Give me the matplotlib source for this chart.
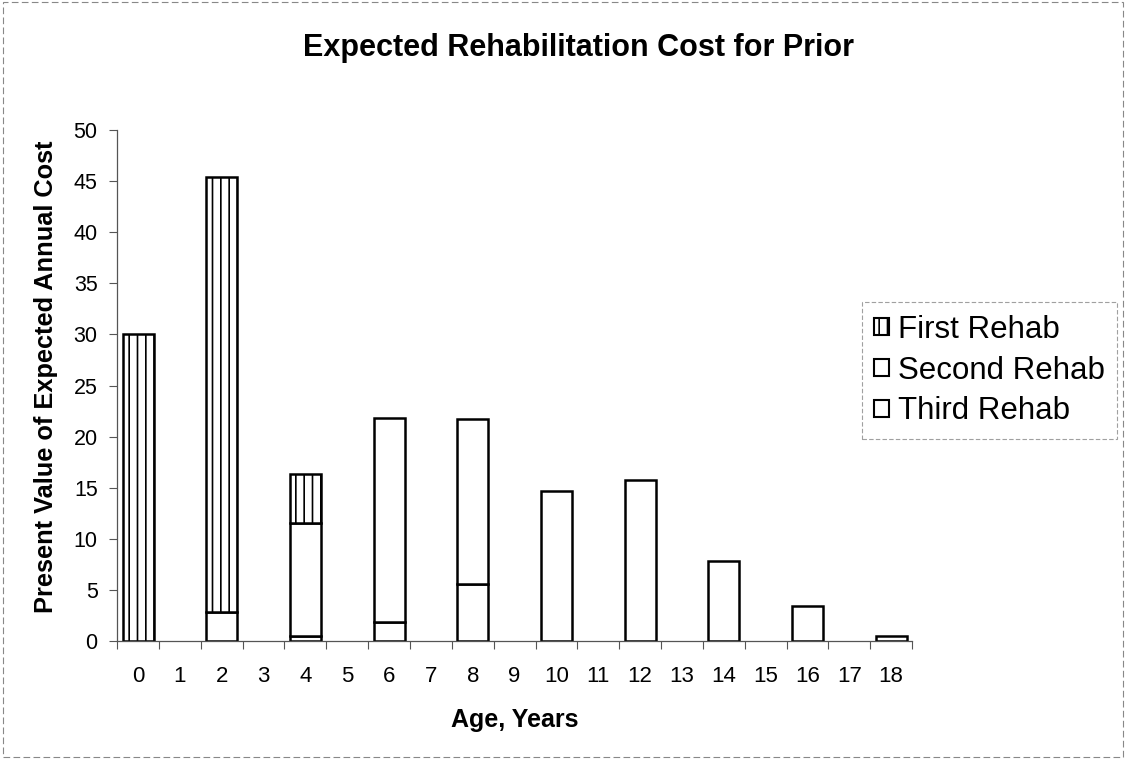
import matplotlib
matplotlib.use("Agg")
import matplotlib.pyplot as plt
from matplotlib.patches import Rectangle
import numpy as np

# Present value of expected annual rehabilitation cost by age
ages = list(range(19))
first_rehab = [30.0, 0, 42.6, 0, 4.8, 0, 0, 0, 0, 0, 0, 0, 0, 0, 0, 0, 0, 0, 0]
second_rehab = [0, 0, 2.8, 0, 11.0, 0, 19.9, 0, 16.1, 0, 0, 0, 0, 0, 0, 0, 0, 0, 0]
third_rehab = [0, 0, 0, 0, 0.5, 0, 1.9, 0, 5.6, 0, 14.7, 0, 15.8, 0, 7.8, 0, 3.4, 0, 0.5]
y_ticks = [0, 5, 10, 15, 20, 25, 30, 35, 40, 45, 50]

plt.rcParams['font.family'] = ['Liberation Sans', 'DejaVu Sans']
plt.rcParams['hatch.linewidth'] = 1.2

fig = plt.figure(figsize=(11.26, 7.59), dpi=100)
ax = fig.add_axes([0.104, 0.1555, 0.706, 0.673])

x = np.array(ages)
third = np.array(third_rehab)
second = np.array(second_rehab)
first = np.array(first_rehab)

w = 0.74
common = dict(width=w, edgecolor='black', linewidth=1.8)
mask3 = third > 0
mask2 = second > 0
mask1 = first > 0
ax.bar(x[mask3], third[mask3], bottom=0, color='white', label='Third Rehab', **common)
ax.bar(x[mask2], second[mask2], bottom=third[mask2], color='white', label='Second Rehab', **common)
ax.bar(x[mask1], first[mask1], bottom=(third + second)[mask1], color='white', hatch='||',
       label='First Rehab', **common)

ax.set_xlim(-0.5, 18.5)
ax.set_ylim(0, 50)
ax.set_yticks(y_ticks)
ax.set_xticks(ages)
ax.set_xticks(np.arange(-0.5, 19, 1), minor=True)
ax.tick_params(axis='x', which='major', length=0, pad=18, labelsize=16)
ax.tick_params(axis='x', which='minor', length=6, width=0.8, color='#555555', direction='out')
ax.tick_params(axis='y', which='major', length=6, width=0.8, color='#555555', labelsize=15.5, pad=8)

for side in ['top', 'right']:
    ax.spines[side].set_visible(False)
for side in ['left', 'bottom']:
    ax.spines[side].set_color('#555555')
    ax.spines[side].set_linewidth(0.9)

ax.set_xlabel('Age, Years', fontsize=18, fontweight='bold', va='center', ha='center')
ax.xaxis.set_label_coords(0.5, -0.1546)
ax.set_ylabel('Present Value of Expected Annual Cost', fontsize=18.3, fontweight='bold',
              va='center', ha='center')
ax.yaxis.set_label_coords(-0.0895, 0.518)

fig.text(0.514, 0.937, 'Expected Rehabilitation Cost for Prior', ha='center', va='center',
         fontsize=22, fontweight='bold')

handles, labels = ax.get_legend_handles_labels()
order = [2, 1, 0]
leg = fig.legend([handles[i] for i in order], [labels[i] for i in order],
                 loc='upper left', bbox_to_anchor=(0.7655, 0.602), fontsize=22.5,
                 frameon=True, fancybox=False, handlelength=0.45, handleheight=0.45,
                 handletextpad=0.3, labelspacing=0.35, borderpad=0.4, borderaxespad=0)
frame = leg.get_frame()
frame.set_edgecolor('#888888')
frame.set_linestyle((0, (4, 2)))
frame.set_linewidth(0.8)
for p in leg.get_patches():
    p.set_linewidth(1.5)

# outer chart border
fig.patches.append(Rectangle((0.003, 0.003), 0.994, 0.994, transform=fig.transFigure,
                             fill=False, edgecolor='#888888', linewidth=0.8,
                             linestyle=(0, (6, 3))))

fig.savefig('out.png', dpi=100, facecolor='white')
